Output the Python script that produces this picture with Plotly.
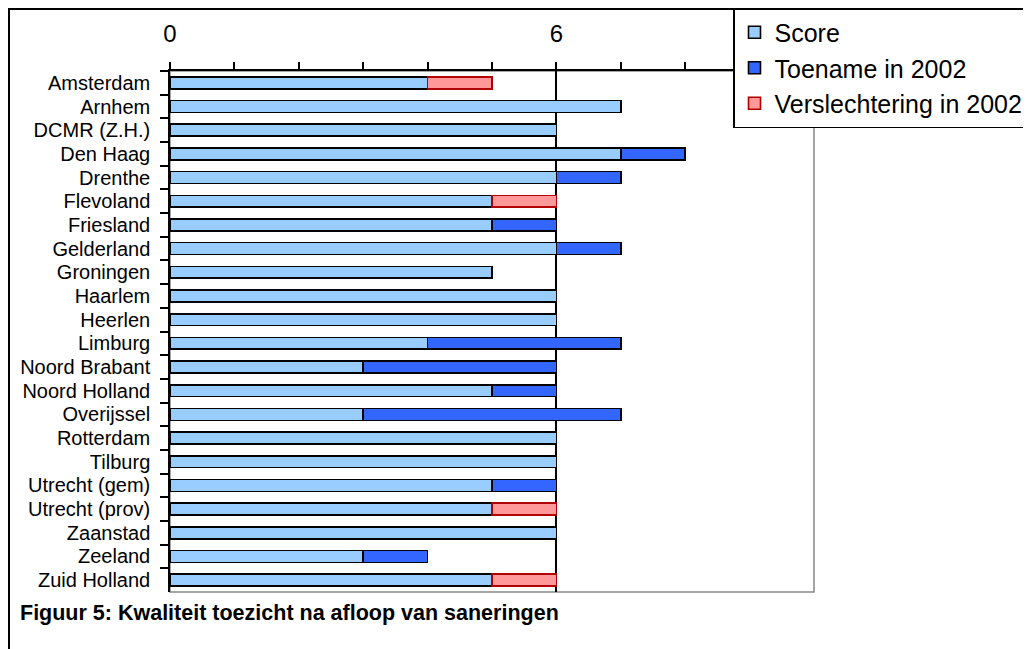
import plotly.graph_objects as go

categories = ["Amsterdam", "Arnhem", "DCMR (Z.H.)", "Den Haag", "Drenthe", "Flevoland",
              "Friesland", "Gelderland", "Groningen", "Haarlem", "Heerlen", "Limburg",
              "Noord Brabant", "Noord Holland", "Overijssel", "Rotterdam", "Tilburg",
              "Utrecht (gem)", "Utrecht (prov)", "Zaanstad", "Zeeland", "Zuid Holland"]
score =          [4, 7, 6, 7, 6, 5, 5, 6, 5, 6, 6, 4, 3, 5, 3, 6, 6, 5, 5, 6, 3, 5]
toename =        [0, 0, 0, 1, 1, 0, 1, 1, 0, 0, 0, 3, 3, 1, 4, 0, 0, 1, 0, 0, 1, 0]
verslechtering = [1, 0, 0, 0, 0, 1, 0, 0, 0, 0, 0, 0, 0, 0, 0, 0, 0, 0, 1, 0, 0, 1]
tick_vals = [0, 6]
tick_text = ["0", "6"]
title_text = "Figuur 5: Kwaliteit toezicht na afloop van saneringen"

FONT = "Arial, Liberation Sans, sans-serif"
W, H = 1031, 649
OFF = 8  # page body offset
# plot area in screenshot coordinates
L, R, T, B = 170, 814, 71, 592


def nz(vals):
    return [v if v else None for v in vals]


fig = go.Figure()
fig.add_trace(go.Bar(y=categories, x=nz(score), orientation="h", name="Score",
                     marker=dict(color="#99CCFF", line=dict(color="black", width=1.6)),
                     width=0.5, legendgroup="a"))
fig.add_trace(go.Bar(y=categories, x=nz(toename), orientation="h", name="Toename in 2002",
                     marker=dict(color="#3366FF", line=dict(color="black", width=1.6)),
                     width=0.5, legendgroup="b"))
fig.add_trace(go.Bar(y=categories, x=nz(verslechtering), orientation="h", name="Verslechtering in 2002",
                     marker=dict(color="#FF9999", line=dict(color="#B00000", width=1.6)),
                     width=0.5, legendgroup="c"))

fig.update_layout(
    width=W, height=H,
    barmode="stack",
    paper_bgcolor="white", plot_bgcolor="white",
    margin=dict(l=L - OFF, r=W - R + OFF, t=T - OFF, b=H - B + OFF, pad=0, autoexpand=False),
    font=dict(family=FONT, color="black", size=20),
    showlegend=True,
    legend=dict(x=(733 - L) / (R - L), y=(B - 8) / (B - T), xanchor="left", yanchor="top",
                bgcolor="white", bordercolor="black", borderwidth=1.5,
                font=dict(size=25, family=FONT), traceorder="normal",
                tracegroupgap=6, itemwidth=30),
    title=dict(text="<b>" + title_text + "</b>", xref="container", yref="container",
               x=(20 - OFF) / W, xanchor="left", y=1 - (612 - OFF) / H, yanchor="middle",
               font=dict(size=21.5, family=FONT, color="black")),
)
fig.update_xaxes(side="top", range=[0, 10], tickvals=tick_vals, ticktext=tick_text,
                 tickfont=dict(size=24), ticks="outside", ticklen=7, tickwidth=1.5,
                 tickcolor="black", showline=True, linecolor="black", linewidth=1.5,
                 showgrid=True, gridcolor="black", gridwidth=1.5, zeroline=False,
                 ticklabelstandoff=11,
                 minor=dict(dtick=1, ticks="outside", ticklen=7, tickwidth=1.5,
                            tickcolor="black", showgrid=False))
fig.update_yaxes(autorange="reversed", tickmode="linear", tick0=0, dtick=1,
                 ticks="outside", tickson="boundaries", ticklen=8,
                 tickwidth=1.5, tickcolor="black", showline=True, linecolor="black",
                 linewidth=1.5, showgrid=False, tickfont=dict(size=20), ticklabelstandoff=14)

# plot area frame (grey) and outer chart frame
fig.add_shape(type="rect", xref="paper", yref="paper", x0=0, x1=1, y0=0, y1=1,
              line=dict(color="#888888", width=1.5), layer="below")
fig.add_shape(type="rect", xref="paper", yref="paper",
              x0=(9 - L) / (R - L), x1=(W + 40 - L) / (R - L),
              y0=(B - (H + 40)) / (B - T), y1=(B - 9) / (B - T),
              line=dict(color="black", width=2), layer="below")

fig.write_html("out.html")
